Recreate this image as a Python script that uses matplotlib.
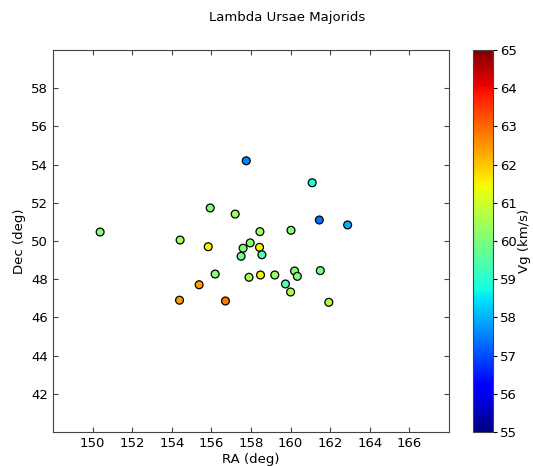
import matplotlib
matplotlib.use("Agg")
import matplotlib.pyplot as plt
import numpy as np

ra = [150.38, 154.42, 155.94, 157.2, 157.76, 155.84, 157.6, 157.96, 157.5, 158.45,
      158.43, 158.55, 156.19, 157.9, 158.48, 159.2, 155.38, 154.39, 156.71, 159.74,
      160.0, 160.2, 160.34, 160.02, 161.5, 161.93, 161.45, 161.09, 162.88]
dec = [50.47, 50.05, 51.73, 51.41, 54.2, 49.7, 49.62, 49.9, 49.2, 50.49,
       49.67, 49.28, 48.27, 48.1, 48.22, 48.22, 47.71, 46.9, 46.86, 47.75,
       47.33, 48.43, 48.15, 50.56, 48.45, 46.79, 51.1, 53.05, 50.84]
vg = [60.0, 60.4, 60.0, 60.4, 57.6, 61.5, 60.1, 60.2, 59.8, 60.4,
      61.5, 59.4, 60.1, 60.5, 61.5, 60.3, 62.4, 62.4, 62.8, 59.5,
      60.6, 60.1, 60.0, 60.0, 59.9, 60.6, 57.4, 58.9, 58.0]

xticks = [150, 152, 154, 156, 158, 160, 162, 164, 166]
yticks = [42, 44, 46, 48, 50, 52, 54, 56, 58]
cticks = [55, 56, 57, 58, 59, 60, 61, 62, 63, 64, 65]

fig = plt.figure(figsize=(5.33, 4.66), dpi=100)
ax = fig.add_axes([53/533, 34/466, 396/533, 382/466])
cax = fig.add_axes([473/533, 34/466, 20/533, 382/466])

sc = ax.scatter(ra, dec, c=vg, cmap="jet", vmin=55, vmax=65, s=32,
                edgecolors="black", linewidths=0.9, zorder=3)
ax.set_xlim(148, 168)
ax.set_ylim(40, 60)
ax.set_xticks(xticks)
ax.set_yticks(yticks)
ax.tick_params(direction="in", top=True, right=True, labelsize=9.5, color="#444444")
for s in ax.spines.values():
    s.set_color("#444444")
ax.set_xlabel("RA (deg)", fontsize=9.5, labelpad=2)
ax.set_ylabel("Dec (deg)", fontsize=9.5)

cb = fig.colorbar(sc, cax=cax)
cb.set_ticks(cticks)
cb.ax.tick_params(labelsize=9.5, length=3, pad=2)
cb.set_label("Vg (km/s)", fontsize=9.5, labelpad=1)
cb.outline.set_edgecolor("#444444")

fig.text(287/533, 1 - 18/466, "Lambda Ursae Majorids", ha="center", va="center", fontsize=9.5)

fig.savefig("out.png", dpi=100)
